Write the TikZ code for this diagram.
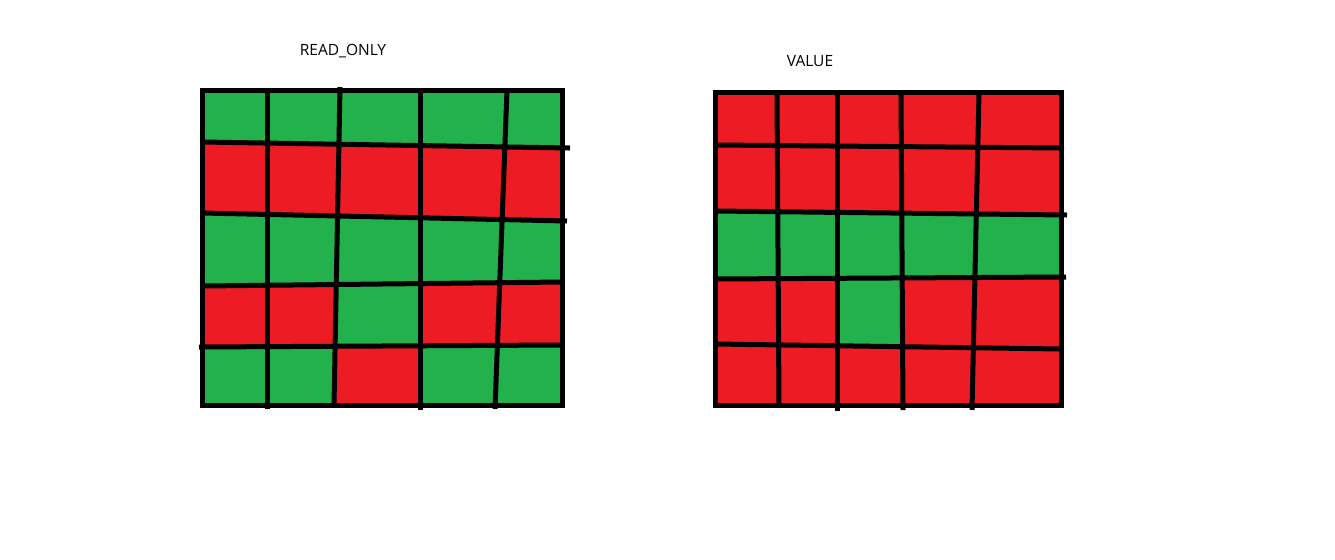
\documentclass[tikz,border=0pt]{standalone}
\usepackage{fontspec}
\setsansfont{Open Sans}
\definecolor{gr}{RGB}{34,177,76}
\definecolor{rd}{RGB}{237,28,36}
\begin{document}
\begin{tikzpicture}[x=0.5pt,y=-0.5pt,line width=2.5pt,font=\sffamily\fontsize{7.75}{9}\selectfont]
  \useasboundingbox (0,0) rectangle (1335,559);

  % 左网格端点
  \foreach \i/\xt/\yt/\xb/\yb in {0/202/90/202/405, 1/267/90/267/409, 2/340/87/334/405,
      3/420/90/420/410, 4/507/90/495/409, 5/562/90/562/405}
    {\coordinate (aT\i) at (\xt,\yt); \coordinate (aB\i) at (\xb,\yb);}
  \foreach \j/\xl/\yl/\xr/\yr in {0/202/90/562/90, 1/202/142/570/148, 2/202/213/567/221,
      3/202/286/562/282, 4/199/347/562/345, 5/202/405/562/405}
    {\coordinate (aL\j) at (\xl,\yl); \coordinate (aR\j) at (\xr,\yr);}

  % 右网格端点
  \foreach \i/\xt/\yt/\xb/\yb in {0/715.5/92.5/715.5/405.5, 1/777/92.5/779/405.5, 2/837/92.5/837/411,
      3/901/92.5/903/410, 4/979/92.5/972/410, 5/1061.5/92.5/1061.5/405.5}
    {\coordinate (bT\i) at (\xt,\yt); \coordinate (bB\i) at (\xb,\yb);}
  \foreach \j/\xl/\yl/\xr/\yr in {0/715.5/92.5/1061.5/92.5, 1/715.5/145/1061.5/148, 2/715.5/211/1067/215,
      3/713/279/1066/277, 4/715.5/344/1061.5/349, 5/715.5/405.5/1061.5/405.5}
    {\coordinate (bL\j) at (\xl,\yl); \coordinate (bR\j) at (\xr,\yr);}

  % 交点
  \foreach \g in {a,b}
    \foreach \i in {0,...,5}
      \foreach \j in {0,...,5}
        \pgfcoordinate{\g-\i-\j}{\pgfpointintersectionoflines
          {\pgfpointanchor{\g T\i}{center}}{\pgfpointanchor{\g B\i}{center}}
          {\pgfpointanchor{\g L\j}{center}}{\pgfpointanchor{\g R\j}{center}}};

  % 格子颜色
  \foreach \j/\cols in {0/{gr,gr,gr,gr,gr}, 1/{rd,rd,rd,rd,rd}, 2/{gr,gr,gr,gr,gr},
      3/{rd,rd,gr,rd,rd}, 4/{gr,gr,rd,gr,gr}}
    \foreach \c [count=\i from 0] in \cols {
      \pgfmathtruncatemacro\ii{\i+1}
      \pgfmathtruncatemacro\jj{\j+1}
      \fill[\c] (a-\i-\j) -- (a-\ii-\j) -- (a-\ii-\jj) -- (a-\i-\jj) -- cycle;
    }
  \foreach \j/\cols in {0/{rd,rd,rd,rd,rd}, 1/{rd,rd,rd,rd,rd}, 2/{gr,gr,gr,gr,gr},
      3/{rd,rd,gr,rd,rd}, 4/{rd,rd,rd,rd,rd}}
    \foreach \c [count=\i from 0] in \cols {
      \pgfmathtruncatemacro\ii{\i+1}
      \pgfmathtruncatemacro\jj{\j+1}
      \fill[\c] (b-\i-\j) -- (b-\ii-\j) -- (b-\ii-\jj) -- (b-\i-\jj) -- cycle;
    }

  % 网格线
  \foreach \g in {a,b} {
    \foreach \k in {1,...,4} {
      \draw (\g T\k) -- (\g B\k);
      \draw (\g L\k) -- (\g R\k);
    }
    \draw[line join=miter] (\g-0-0) -- (\g-5-0) -- (\g-5-5) -- (\g-0-5) -- cycle;
  }

  % 标题
  \node (ro) at (343,51) {READ\_ONLY};
  \node (val) at (810,61) {VALUE};
\end{tikzpicture}
\end{document}
